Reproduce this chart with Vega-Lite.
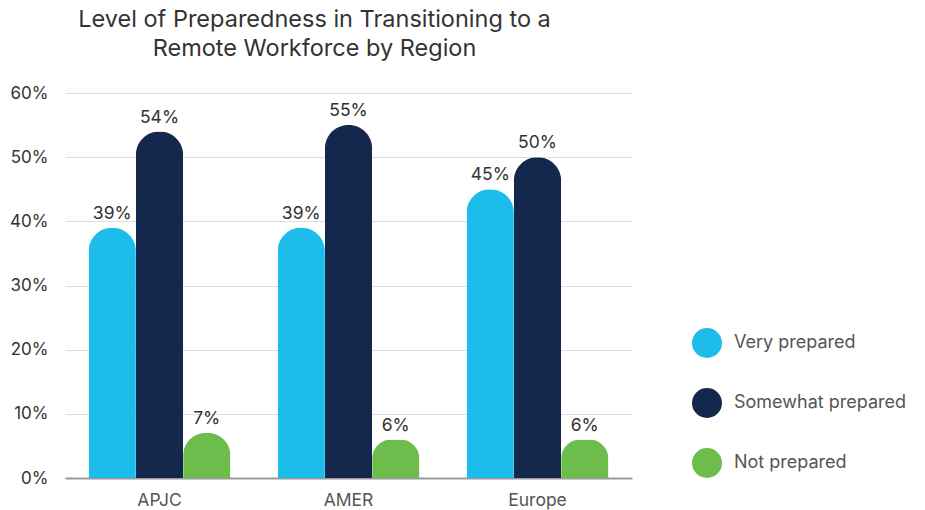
{
  "$schema": "https://vega.github.io/schema/vega-lite/v6.json",
  "autosize": "none",
  "width": 567,
  "height": 385,
  "padding": {"left": 65, "top": 93, "right": 293, "bottom": 32},
  "background": "white",
  "title": {
    "text": ["Level of Preparedness in Transitioning to a", "Remote Workforce by Region"],
    "anchor": "middle",
    "dx": -34,
    "offset": 24,
    "font": "Inter",
    "fontSize": 23.5,
    "fontWeight": "normal",
    "color": "#333333",
    "lineHeight": 29
  },
  "data": {
    "values": [
      {"region": "APJC", "level": "Very prepared", "value": 0.39},
      {"region": "APJC", "level": "Somewhat prepared", "value": 0.54},
      {"region": "APJC", "level": "Not prepared", "value": 0.07},
      {"region": "AMER", "level": "Very prepared", "value": 0.39},
      {"region": "AMER", "level": "Somewhat prepared", "value": 0.55},
      {"region": "AMER", "level": "Not prepared", "value": 0.06},
      {"region": "Europe", "level": "Very prepared", "value": 0.45},
      {"region": "Europe", "level": "Somewhat prepared", "value": 0.50},
      {"region": "Europe", "level": "Not prepared", "value": 0.06}
    ]
  },
  "encoding": {
    "x": {
      "field": "region", "type": "nominal", "sort": ["APJC", "AMER", "Europe"],
      "scale": {"paddingInner": 0.25, "paddingOuter": 0.125},
      "axis": {
        "title": null, "labelAngle": 0, "labelFont": "Inter", "labelFontSize": 17.5,
        "labelColor": "#555555", "ticks": false, "domainColor": "#999999",
        "domainWidth": 2, "labelPadding": 13
      }
    },
    "xOffset": {"field": "level", "type": "nominal", "sort": ["Very prepared", "Somewhat prepared", "Not prepared"]},
    "y": {
      "field": "value", "type": "quantitative",
      "scale": {"domain": [0, 0.6]},
      "axis": {
        "title": null, "format": ".0%", "values": [0, 0.1, 0.2, 0.3, 0.4, 0.5, 0.6],
        "labelFont": "Inter", "labelFontSize": 17, "labelColor": "#333333",
        "ticks": false, "domain": false, "labelPadding": 17,
        "gridColor": "#dddddd", "gridWidth": 1
      }
    }
  },
  "layer": [
    {
      "mark": {"type": "bar", "cornerRadiusEnd": 23.5},
      "encoding": {
        "color": {
          "field": "level", "type": "nominal",
          "scale": {
            "domain": ["Very prepared", "Somewhat prepared", "Not prepared"],
            "range": ["#1DBDEB", "#14284D", "#6CBD4B"]
          },
          "legend": {
            "title": null, "orient": "none", "legendX": 627, "legendY": 235,
            "symbolType": "circle", "symbolSize": 900, "symbolStrokeWidth": 0,
            "labelFont": "Inter", "labelFontSize": 18, "labelColor": "#555555",
            "rowPadding": 30, "labelOffset": 12, "labelLimit": 300
          }
        }
      }
    },
    {
      "mark": {"type": "text", "baseline": "bottom", "dy": -5, "font": "Inter", "fontSize": 17.5, "color": "#333333"},
      "encoding": {
        "text": {"field": "value", "type": "quantitative", "format": ".0%"}
      }
    }
  ],
  "config": {"view": {"stroke": null}}
}
